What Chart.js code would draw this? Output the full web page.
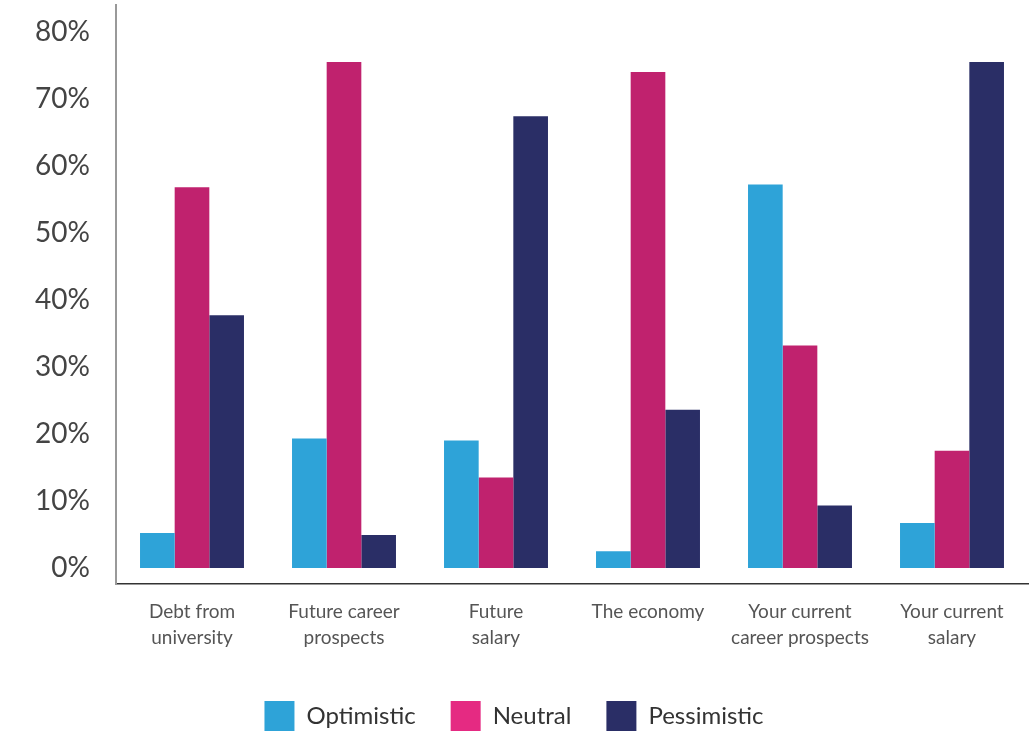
<!DOCTYPE html>
<html>
<head>
<meta charset="utf-8">
<script src="https://cdn.jsdelivr.net/npm/chart.js@4.4.1/dist/chart.umd.min.js"></script>
<style>
    html, body { margin: 0; padding: 0; background: #fff; overflow: hidden; }
    #wrap { position: relative; width: 1032px; height: 734px; }
</style>
</head>
<body>
<div id="wrap"><canvas id="outlook"></canvas></div>
<script>
var categories = [
    ['Debt from', 'university'],
    ['Future career', 'prospects'],
    ['Future', 'salary'],
    'The economy',
    ['Your current', 'career prospects'],
    ['Your current', 'salary']
];
var optimistic = [5.2, 19.3, 19.0, 2.5, 57.2, 6.7];
var neutral = [56.8, 75.5, 13.5, 74.0, 33.2, 17.5];
var pessimistic = [37.7, 4.9, 67.4, 23.6, 9.3, 75.5];
var yTicks = [0, 10, 20, 30, 40, 50, 60, 70, 80];

var barColors = ['#2ea3d8', '#c0226e', '#2a2e66'];
var legendColors = ['#2ea3d8', '#e52a82', '#2a2e66'];

var ctx = document.querySelector('#outlook');

var data = {
    labels: categories,
    datasets: [
        { label: 'Optimistic', data: optimistic, backgroundColor: barColors[0] },
        { label: 'Neutral', data: neutral, backgroundColor: barColors[1] },
        { label: 'Pessimistic', data: pessimistic, backgroundColor: barColors[2] }
    ]
};

var chart = new Chart(ctx, {
    type: 'bar',
    data: data,
    options: {
        responsive: true,
        maintainAspectRatio: false,
        animation: false,
        layout: {
            padding: { top: 5, right: 4, bottom: 0, left: 0 }
        },
        datasets: {
            bar: { barPercentage: 1, categoryPercentage: 0.684, borderWidth: 0 }
        },
        plugins: {
            tooltip: { enabled: false },
            legend: {
                position: 'bottom',
                maxHeight: 68,
                labels: {
                    boxWidth: 30,
                    boxHeight: 30,
                    padding: 35,
                    color: '#333',
                    font: { family: 'Lato', size: 24 },
                    generateLabels: function(c) {
                        return c.data.datasets.map(function(ds, i) {
                            return {
                                text: ds.label,
                                fillStyle: legendColors[i],
                                strokeStyle: legendColors[i],
                                lineWidth: 0,
                                fontColor: '#333',
                                datasetIndex: i
                            };
                        });
                    }
                }
            }
        },
        scales: {
            x: {
                grid: { display: false, drawTicks: false },
                border: { display: true, color: '#333', width: 1.5 },
                ticks: {
                    color: '#555',
                    padding: 15,
                    maxRotation: 0,
                    autoSkip: false,
                    font: { family: 'Lato', size: 19, lineHeight: 1.37 }
                },
                afterFit: function(scale) {
                    scale.height = 82;
                    scale.paddingLeft = 0;
                    scale.paddingRight = 0;
                }
            },
            y: {
                min: -2.4,
                max: 84,
                grid: { display: false, drawTicks: false },
                border: { display: true, color: '#999', width: 2 },
                ticks: {
                    color: '#444',
                    padding: 26,
                    font: { family: 'Lato', size: 28 },
                    callback: function(v) { return v + '%'; }
                },
                afterBuildTicks: function(scale) {
                    scale.ticks = yTicks.map(function(v) { return { value: v }; });
                },
                afterFit: function(scale) {
                    scale.width = 116;
                    scale.paddingTop = 0;
                    scale.paddingBottom = 0;
                }
            }
        }
    }
});
</script>
</body>
</html>
